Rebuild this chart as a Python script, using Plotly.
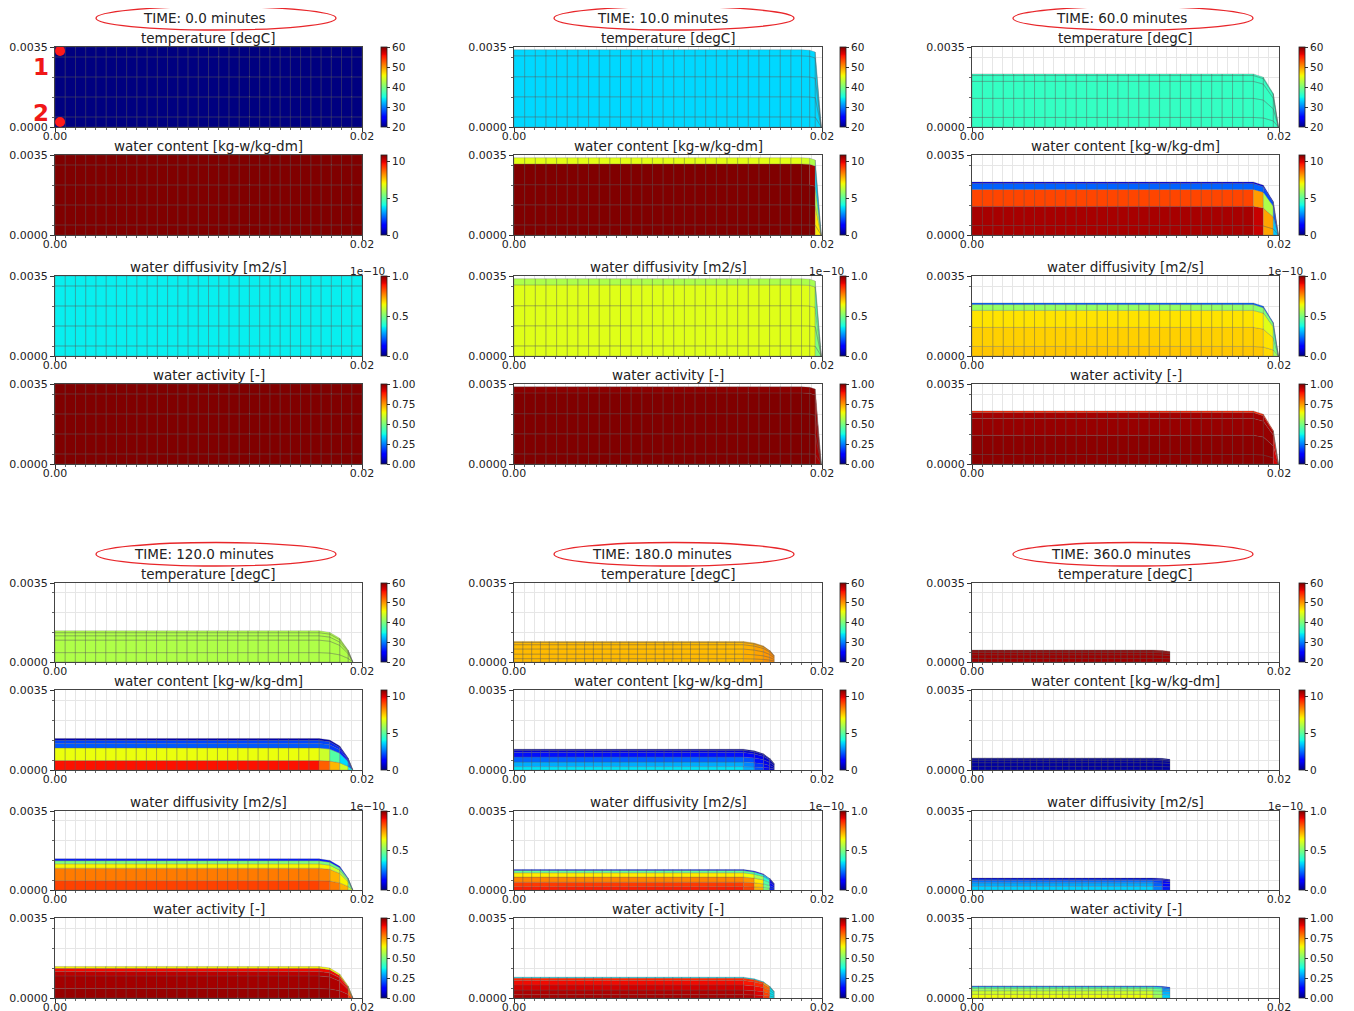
import numpy as np
import plotly.graph_objects as go
from plotly.colors import sample_colorscale

# ---------------- data ----------------
times_min = [0.0, 10.0, 60.0, 120.0, 180.0, 360.0]
var_titles = ["temperature [degC]", "water content [kg-w/kg-dm]",
              "water diffusivity [m2/s]", "water activity [-]"]
cbar_min = [20.0, 0.0, 0.0, 0.0]
cbar_max = [60.0, 10.87, 1.0, 1.0]
cbar_ticks = [[20, 30, 40, 50, 60], [0, 5, 10], [0.0, 0.5, 1.0], [0.0, 0.25, 0.5, 0.75, 1.0]]
cbar_ticktext = [["20", "30", "40", "50", "60"], ["0", "5", "10"],
                 ["0.0", "0.5", "1.0"], ["0.00", "0.25", "0.50", "0.75", "1.00"]]
diffusivity_exponent = "1e\u221210"

x_ticks = [0.0, 0.02]
x_ticktext = ["0.00", "0.02"]
y_ticks = [0.0, 0.0035]
y_ticktext = ["0.0000", "0.0035"]
n_mesh_cols = 30

# slab geometry per time (m)
slab_height = [0.0035, 0.00338, 0.00232, 0.00138, 0.00091, 0.00053]
corner_x = [
    [0.0200],
    [0.01867, 0.01920, 0.01956, 0.01995],
    [0.01833, 0.01898, 0.01963, 0.01996],
    [0.01720, 0.01790, 0.01855, 0.01910, 0.01940],
    [0.01490, 0.01560, 0.01620, 0.01660, 0.01690],
    [0.01180, 0.01240, 0.01290],
]
corner_h = [
    [1.0],
    [1.0, 0.995, 0.97, 0.0],
    [1.0, 0.94, 0.63, 0.0],
    [1.0, 0.95, 0.76, 0.38, 0.0],
    [1.0, 0.92, 0.78, 0.58, 0.32],
    [1.0, 0.96, 0.88],
]
# mesh row edges, as fraction of local slab height
row_edges = [
    [0.0, 0.125, 0.375, 0.625, 0.875, 1.0],
    [0.0, 0.13, 0.39, 0.65, 0.92, 1.0],
    [0.0, 0.18, 0.54, 0.86, 0.97, 1.0],
    [0.0, 0.30, 0.70, 0.84, 0.94, 1.0],
    [0.0, 0.16, 0.38, 0.63, 0.84, 0.95, 1.0],
    [0.0, 0.30, 0.60, 0.80, 0.92, 1.0],
]

# cell values, rows bottom -> top; a list = [interior, last columns ...]
temperature = [
    [20, 20, 20, 20, 20],
    [33.5, 33.5, 33.5, 33.5, 33.5],
    [36.5, 36.5, 36.5, 36.5, 36.5],
    [42.5, 42.5, 42.5, 42.5, 42.5],
    [[48.5, 49.0, 49.5, 50.0, 50.5], [48.5, 49.0, 49.5, 50.0, 50.5], [48.5, 49.0, 49.5, 50.0, 50.5],
     [48.5, 49.0, 49.5, 50.0, 50.5], [48.5, 49.0, 49.5, 50.0, 50.5], [48.5, 49.0, 49.5, 50.0, 50.5]],
    [59, 59, 59, 59, 59],
]
water_content = [
    [10.87, 10.87, 10.87, 10.87, 10.87],
    [[10.87, 10.87, 10.87, 7.2], [10.87, 10.87, 10.87, 7.2], [10.87, 10.87, 10.87, 6.0],
     [10.87, 10.87, 10.5, 3.6], [6.8, 6.6, 6.1, 3.6]],
    [[10.5, 10.2, 8.0, 3.5], [10.5, 10.2, 8.0, 3.5], [9.1, 8.1, 6.1, 2.4],
     [2.4, 2.4, 2.2, 1.5], [0.9, 0.9, 0.9, 0.8]],
    [[9.7, 8.8, 7.8, 6.5, 4.0], [6.9, 6.5, 4.9, 3.7, 2.5], [2.3, 2.3, 2.0, 1.6, 1.2],
     [2.1, 2.1, 1.8, 1.3, 1.0], [0.5, 0.5, 0.5, 0.5, 0.5]],
    [[3.8, 3.2, 2.2, 1.3, 0.8], [3.2, 2.8, 1.9, 1.1, 0.7], [2.4, 2.2, 1.5, 1.0, 0.6],
     [1.5, 1.4, 1.1, 0.8, 0.5], [0.8, 0.8, 0.7, 0.6, 0.4], [0.3, 0.3, 0.3, 0.3, 0.3]],
    [0.3, 0.3, 0.3, 0.3, 0.2],
]
water_diffusivity = [  # units of 1e-10 m2/s
    [0.36, 0.36, 0.36, 0.36, 0.36],
    [[0.62, 0.62, 0.62, 0.5], [0.62, 0.62, 0.62, 0.5], [0.62, 0.62, 0.62, 0.5],
     [0.62, 0.62, 0.60, 0.45], [0.56, 0.56, 0.55, 0.45]],
    [[0.70, 0.70, 0.68, 0.55], [0.69, 0.69, 0.67, 0.50], [0.67, 0.66, 0.62, 0.45],
     [0.53, 0.52, 0.50, 0.35], [0.22, 0.22, 0.22, 0.20]],
    [[0.84, 0.82, 0.78, 0.72, 0.60], [0.78, 0.77, 0.72, 0.65, 0.50], [0.65, 0.65, 0.60, 0.55, 0.45],
     [0.50, 0.50, 0.48, 0.45, 0.35], [0.15, 0.15, 0.15, 0.15, 0.15]],
    [[0.88, 0.84, 0.72, 0.50, 0.15], [0.85, 0.82, 0.70, 0.48, 0.15], [0.77, 0.75, 0.66, 0.45, 0.12],
     [0.66, 0.64, 0.55, 0.40, 0.10], [0.47, 0.46, 0.40, 0.30, 0.10], [0.16, 0.16, 0.14, 0.12, 0.08]],
    [[0.33, 0.25, 0.15], [0.29, 0.22, 0.13], [0.24, 0.19, 0.12], [0.18, 0.15, 0.10], [0.07, 0.07, 0.06]],
]
water_activity = [
    [1.0, 1.0, 1.0, 1.0, 1.0],
    [[1.0, 1.0, 1.0, 0.97], [1.0, 1.0, 1.0, 0.97], [1.0, 1.0, 1.0, 0.97],
     [1.0, 1.0, 1.0, 0.97], [0.99, 0.99, 0.99, 0.95]],
    [[0.99, 0.99, 0.99, 0.92], [0.99, 0.99, 0.99, 0.92], [0.98, 0.98, 0.98, 0.90],
     [0.97, 0.97, 0.96, 0.88], [0.87, 0.87, 0.87, 0.85]],
    [[0.98, 0.98, 0.97, 0.95, 0.85], [0.97, 0.97, 0.96, 0.93, 0.80], [0.95, 0.95, 0.94, 0.90, 0.75],
     [0.90, 0.90, 0.90, 0.85, 0.70], [0.65, 0.65, 0.65, 0.65, 0.60]],
    [[0.97, 0.96, 0.93, 0.85, 0.35], [0.96, 0.95, 0.92, 0.84, 0.35], [0.93, 0.92, 0.90, 0.82, 0.35],
     [0.90, 0.89, 0.87, 0.80, 0.35], [0.87, 0.86, 0.84, 0.75, 0.35], [0.35, 0.35, 0.35, 0.35, 0.33]],
    [[0.64, 0.55, 0.33], [0.60, 0.52, 0.30], [0.53, 0.48, 0.28], [0.42, 0.38, 0.25], [0.20, 0.20, 0.18]],
]
variables = [temperature, water_content, water_diffusivity, water_activity]

probe_x = [0.00033, 0.00033]
probe_y = [0.00333, 0.00022]
probe_labels = ["1", "2"]

# ---------------- style / layout ----------------
PAGE_OFFSET = 8                      # default body margin of the html page
FIG_W, FIG_H = 1354 - PAGE_OFFSET, 1011 - PAGE_OFFSET
FONT = "DejaVu Sans"
col_px = [(55, 362), (514, 822), (972, 1279)]
block_rows_px = [[(47, 127), (155, 235), (276, 356), (384, 464)],
                 [(583, 662), (690, 770), (811, 890), (918, 998)]]
cbar_left_px = [381, 840, 1299]
cbar_w = 6
time_text_cx = [204, 662, 1121]
time_text_cy = [18, 554]
probe_label_px = [(41, 67), (41, 113)]
MESH_LINE = "rgba(95,95,95,0.45)"
GRID = "#e6e6e6"


def jet_scale():
    red = [(0, 0), (0.35, 0), (0.66, 1), (0.89, 1), (1, 0.5)]
    green = [(0, 0), (0.125, 0), (0.375, 1), (0.64, 1), (0.91, 0), (1, 0)]
    blue = [(0, 0.5), (0.11, 1), (0.34, 1), (0.65, 0), (1, 0)]
    stops = sorted(set(p for seg in (red, green, blue) for p, _ in seg))

    def f(seg, s):
        return float(np.interp(s, [a for a, _ in seg], [b for _, b in seg]))
    return [[s, "rgb(%d,%d,%d)" % (round(255 * f(red, s)), round(255 * f(green, s)), round(255 * f(blue, s)))]
            for s in stops]


JET = jet_scale()


def px2x(p):
    return (p - PAGE_OFFSET) / FIG_W


def px2y(p):
    return 1 - (p - PAGE_OFFSET) / FIG_H


def mesh_nodes(t):
    cx, ch = corner_x[t], corner_h[t]
    n_int = n_mesh_cols - (len(cx) - 1)
    xs = list(np.linspace(0.0, cx[0], n_int + 1)) + list(cx[1:])
    hs = [1.0] * n_int + list(ch)
    return np.array(xs), np.array(hs) * slab_height[t]


def cell_value(entry, col):
    if not isinstance(entry, list):
        return entry
    over = entry[1:]
    k = len(over)
    if col >= n_mesh_cols - k:
        return over[col - (n_mesh_cols - k)]
    return entry[0]


fig = go.Figure()
layout_axes = {}
annotations = []
shapes = []
TICKFONT = dict(family=FONT, size=11, color="#222")

for p in range(6):
    block, col = divmod(p, 3)
    xs, hs = mesh_nodes(p)
    edges = row_edges[p]
    cx0, cx1 = col_px[col]
    for v in range(4):
        k = p * 4 + v + 1
        ax = "" if k == 1 else str(k)
        y0p, y1p = block_rows_px[block][v]
        vmin, vmax = cbar_min[v], cbar_max[v]
        groups = {}
        data = variables[v][p]
        for r in range(len(edges) - 1):
            f0, f1 = edges[r], edges[r + 1]
            for i in range(n_mesh_cols):
                val = cell_value(data[r], i)
                norm = min(max((val - vmin) / (vmax - vmin), 0.0), 1.0)
                colr = sample_colorscale(JET, [norm])[0]
                gx, gy = groups.setdefault(colr, ([], []))
                gx += [xs[i], xs[i + 1], xs[i + 1], xs[i], xs[i], None]
                gy += [f0 * hs[i], f0 * hs[i + 1], f1 * hs[i + 1], f1 * hs[i], f0 * hs[i], None]
        for colr, (gx, gy) in groups.items():
            fig.add_trace(go.Scatter(x=gx, y=gy, mode="lines", fill="toself", fillcolor=colr,
                                     line=dict(color=MESH_LINE, width=0.6), hoverinfo="skip",
                                     showlegend=False, xaxis="x" + ax, yaxis="y" + ax))
        # colorbar carrier
        fig.add_trace(go.Scatter(
            x=[-1, -1], y=[-1, -1], mode="markers", hoverinfo="skip", showlegend=False,
            xaxis="x" + ax, yaxis="y" + ax,
            marker=dict(size=1, color=[vmin, vmax], cmin=vmin, cmax=vmax, colorscale=JET, showscale=True,
                        colorbar=dict(x=px2x(cbar_left_px[col]), xanchor="left",
                                      y=px2y((y0p + y1p) / 2), yanchor="middle",
                                      len=(y1p - y0p) / FIG_H, lenmode="fraction",
                                      thickness=cbar_w, thicknessmode="pixels", xpad=0, ypad=0,
                                      outlinewidth=0.8, outlinecolor="#222",
                                      tickvals=cbar_ticks[v], ticktext=cbar_ticktext[v],
                                      ticks="outside", ticklen=3, tickcolor="#333",
                                      tickfont=dict(family=FONT, size=10.5, color="#222")))))
        layout_axes["xaxis" + ax] = dict(
            domain=[px2x(cx0), px2x(cx1)], range=[0, 0.02], anchor="y" + ax,
            tickmode="array", tickvals=x_ticks, ticktext=x_ticktext, ticks="outside", ticklen=4,
            ticklabelstandoff=-5,
            tickcolor="#333", showline=True, mirror=True, linecolor="#444", linewidth=1,
            showgrid=False, zeroline=False, fixedrange=True, tickfont=TICKFONT,
            minor=dict(tickmode="linear", tick0=0, dtick=0.02 / 30, ticks="outside", ticklen=2,
                       tickcolor="#666", showgrid=True, gridcolor=GRID, gridwidth=0.6))
        layout_axes["yaxis" + ax] = dict(
            domain=[px2y(y1p), px2y(y0p)], range=[0, 0.0035], anchor="x" + ax,
            tickmode="array", tickvals=y_ticks, ticktext=y_ticktext, ticks="outside", ticklen=4,
            tickcolor="#333", showline=True, mirror=True, linecolor="#444", linewidth=1,
            showgrid=False, zeroline=False, fixedrange=True, tickfont=TICKFONT,
            minor=dict(tickmode="linear", tick0=0.0035 / 8, dtick=0.0035 / 4, ticks="outside", ticklen=2,
                       tickcolor="#666", showgrid=True, gridcolor=GRID, gridwidth=0.6))
        annotations.append(dict(text=var_titles[v], x=px2x((cx0 + cx1) / 2), y=px2y(y0p), xref="paper",
                                yref="paper", xanchor="center", yanchor="bottom", yshift=-1, showarrow=False,
                                font=dict(family=FONT, size=13.5, color="#222")))
        if v == 2:
            annotations.append(dict(text=diffusivity_exponent, x=px2x(cbar_left_px[col] + cbar_w),
                                    y=px2y(y0p - 5), xref="paper", yref="paper", xanchor="right",
                                    yanchor="middle", showarrow=False,
                                    font=dict(family=FONT, size=10.5, color="#222")))
    # time label with ellipse
    tcx, tcy = time_text_cx[col], time_text_cy[block]
    annotations.append(dict(text="TIME: %.1f minutes" % times_min[p], x=px2x(tcx), y=px2y(tcy),
                            xref="paper", yref="paper", xanchor="center", yanchor="middle", showarrow=False,
                            font=dict(family=FONT, size=13.5, color="#222")))
    shapes.append(dict(type="circle", xref="paper", yref="paper",
                       x0=px2x(tcx - 108), x1=px2x(tcx + 132), y0=px2y(tcy + 12), y1=px2y(tcy - 11.5),
                       line=dict(color="#e8262a", width=1.3)))

# probe points on first temperature plot
fig.add_trace(go.Scatter(x=probe_x, y=probe_y, mode="markers", cliponaxis=False, hoverinfo="skip",
                         showlegend=False, marker=dict(color="#ff1a1a", size=10), xaxis="x", yaxis="y"))
for lab, (lx, ly) in zip(probe_labels, probe_label_px):
    annotations.append(dict(text="<b>%s</b>" % lab, x=px2x(lx), y=px2y(ly), xref="paper", yref="paper",
                            xanchor="center", yanchor="middle", showarrow=False,
                            font=dict(family=FONT, size=23, color="#f01818")))

fig.update_layout(width=FIG_W, height=FIG_H, margin=dict(l=0, r=0, t=0, b=0, autoexpand=False),
                  paper_bgcolor="white", plot_bgcolor="white", showlegend=False,
                  annotations=annotations, shapes=shapes, **layout_axes)
fig.write_html("out.html")
